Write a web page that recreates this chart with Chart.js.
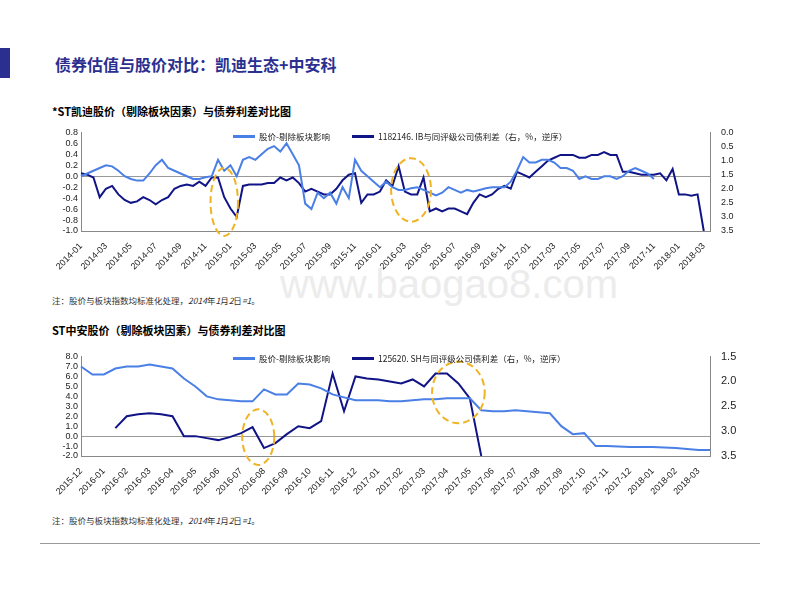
<!DOCTYPE html>
<html><head><meta charset="utf-8">
<script src="https://cdn.jsdelivr.net/npm/chart.js@4"></script>
<style>
body{margin:0;width:800px;height:600px;background:#fff;font-family:"Noto Sans CJK SC","Liberation Sans",sans-serif;position:relative;overflow:hidden}
.abs{position:absolute}
.title{left:55px;top:52px;font-size:16px;font-weight:bold;color:#2b2f8f}
.sub{left:52px;font-size:11px;font-weight:bold;color:#000}
.note{left:52px;font-size:8.5px;color:#333}
.leg{font-size:8.5px;color:#222;display:flex;align-items:center;white-space:nowrap}
.leg span.l{display:inline-block;width:22px;height:3px;margin:0 4px 0 0}
</style></head><body>
<div class="abs" style="left:0;top:48px;width:10px;height:30px;background:#2b2f8f"></div>
<div class="abs title">债券估值与股价对比：凯迪生态+中安科</div>
<div class="abs sub" style="top:103px">*ST凯迪股价（剔除板块因素）与债券利差对比图</div>
<div class="abs sub" style="top:322px">ST中安股价（剔除板块因素）与债券利差对比图</div>
<div class="abs" style="left:280px;top:262px;font-size:40px;color:#ececec;font-family:'Liberation Sans'">www.baogao8.com</div>
<div class="abs note" style="top:294px">注：股价与板块指数均标准化处理，<i>2014</i>年<i>1</i>月<i>2</i>日<i>=1</i>。</div>
<div class="abs note" style="top:514px">注：股价与板块指数均标准化处理，<i>2014</i>年<i>1</i>月<i>2</i>日<i>=1</i>。</div>
<div class="abs" style="left:40px;top:543px;width:720px;height:1px;background:#999"></div>
<div class="abs" style="left:45px;top:124px;width:705px;height:150px"><canvas id="c1"></canvas></div>
<div class="abs" style="left:45px;top:347px;width:705px;height:152px"><canvas id="c2"></canvas></div>
<div class="abs leg" style="left:233px;top:130px"><span class="l" style="background:#4a7fe6"></span>股价-剔除板块影响<span style="width:22px"></span><span class="l" style="background:#101486"></span>1182146. IB与同评级公司债利差（右，%，逆序）</div>
<div class="abs leg" style="left:233px;top:352px"><span class="l" style="background:#4a7fe6"></span>股价-剔除板块影响<span style="width:22px"></span><span class="l" style="background:#101486"></span>125620. SH与同评级公司债利差（右，%，逆序）</div>
<script>
// ---- Chart 1 data (semi-monthly, 2014-01 .. 2018-03)
const months1 = [];
for(let y=2014;y<=2018;y++)for(let m=1;m<=12;m++){if(y===2018&&m>3)break;const s=y+'-'+String(m).padStart(2,'0');months1.push(s);}
const labels1 = [];
months1.forEach(m=>{labels1.push(m);labels1.push('');});
const stock1 = [0.0,0.05,0.1,0.15,0.2,0.18,0.1,0.0,-0.05,-0.08,-0.08,0.05,0.2,0.3,0.15,0.1,0.05,0.0,-0.05,-0.05,-0.02,0.0,0.3,0.1,
0.2,0.0,0.3,0.35,0.3,0.4,0.5,0.55,0.45,0.6,0.4,0.2,-0.5,-0.6,-0.3,-0.4,-0.3,-0.5,-0.2,-0.4,0.3,0.1,0.0,-0.1,
-0.2,-0.1,-0.2,-0.25,-0.25,-0.22,-0.2,-0.25,-0.3,-0.35,-0.3,-0.2,-0.25,-0.3,-0.25,-0.28,-0.25,-0.22,-0.2,-0.2,-0.2,-0.1,0.1,0.35,
0.25,0.25,0.3,0.3,0.25,0.15,0.15,0.1,-0.05,0.0,-0.05,-0.05,0.0,0.0,-0.05,0.0,0.1,0.15,0.1,0.05,-0.05];
const spread1 = [1.45,1.5,1.6,2.3,2.0,1.9,2.2,2.4,2.5,2.45,2.3,2.4,2.55,2.4,2.3,2.0,1.9,1.85,1.9,1.75,1.9,1.6,1.6,2.3,
2.7,3.0,1.9,1.85,1.85,1.85,1.8,1.8,1.6,1.7,1.6,1.8,2.1,2.0,2.1,2.2,2.2,2.0,1.7,1.5,1.45,2.5,2.2,2.2,
2.1,1.7,1.9,1.2,2.1,2.2,2.2,1.6,2.8,2.7,2.8,2.7,2.7,2.8,2.9,2.5,2.2,2.3,2.2,2.0,1.9,2.0,1.4,1.5,
1.6,1.4,1.2,1.0,0.9,0.8,0.8,0.8,0.9,0.9,0.8,0.8,0.7,0.8,0.8,1.4,1.4,1.45,1.5,1.5,1.5,1.45,1.7,1.3,
2.2,2.2,2.25,2.2,3.5];
const ell1 = [[23,-0.47,2.2,0.62],[53,-0.25,3.2,0.58]]; // [index, leftValue, rx(idx), ry(value)]

// ---- Chart 2 data (semi-monthly, 2015-12 .. 2018-03)
const months2 = ['2015-12'];
for(let y=2016;y<=2018;y++)for(let m=1;m<=12;m++){if(y===2018&&m>3)break;months2.push(y+'-'+String(m).padStart(2,'0'));}
const labels2 = [];
months2.forEach(m=>{labels2.push(m);labels2.push('');});
const stock2 = [7.0,6.2,6.2,6.8,7.0,7.0,7.2,7.0,6.8,5.8,5.0,4.0,3.7,3.6,3.5,3.5,4.7,4.2,4.2,5.3,5.2,4.8,4.2,3.9,
3.6,3.6,3.6,3.5,3.5,3.6,3.7,3.7,3.8,3.8,3.8,2.6,2.5,2.5,2.6,2.5,2.4,2.3,1.0,0.2,0.3,-1.0,
-1.0,-1.05,-1.1,-1.1,-1.1,-1.15,-1.2,-1.3,-1.4,-1.4];
const spread2 = [null,null,null,2.94,2.7,2.66,2.64,2.66,2.7,3.1,3.1,3.14,3.18,3.12,3.04,2.92,3.34,3.24,3.06,2.9,2.94,2.8,1.84,2.6,1.9,
1.94,1.96,2.0,2.04,1.96,2.1,1.84,1.84,2.04,2.34,3.5];
const ell2 = [[15.5,-0.1,1.4,2.8],[33,4.4,2.3,3.1]];

const LB='#4a7fe6', DB='#101486';
const ellipsePlugin = {id:'ell',afterDatasetsDraw(ch,a,opts){
  const x=ch.scales.x,y=ch.scales.y,ctx=ch.ctx;ctx.save();ctx.strokeStyle='#f0b323';ctx.lineWidth=2;ctx.setLineDash([7,4]);
  opts.list.forEach(e=>{const cx=x.getPixelForValue(e[0]),cy=y.getPixelForValue(e[1]);
    const rx=Math.abs(x.getPixelForValue(e[0]+e[2])-cx),ry=Math.abs(y.getPixelForValue(e[1]+e[3])-cy);
    ctx.beginPath();ctx.ellipse(cx,cy,rx,ry,0,0,Math.PI*2);ctx.stroke();});
  ctx.restore();}};

function make(id,labels,stock,spread,lmin,lmax,lstep,rmin,rmax,rstep,every,ells,yw){
  const f={size:9,family:'Liberation Sans'};
  return new Chart(document.getElementById(id),{type:'line',
    data:{labels,datasets:[
      {data:stock,borderColor:LB,borderWidth:2,pointRadius:0,yAxisID:'y',tension:0},
      {data:spread,borderColor:DB,borderWidth:2,pointRadius:0,yAxisID:'y1',tension:0}]},
    plugins:[ellipsePlugin],
    options:{responsive:true,maintainAspectRatio:false,animation:false,
      layout:{padding:{top:6,right:4}},
      plugins:{legend:{display:false},tooltip:{enabled:false},ell:{list:ells}},
      scales:{
        x:{grid:{display:false,drawTicks:true},border:{color:'#888'},
          ticks:{autoSkip:false,maxRotation:45,minRotation:45,font:f,color:'#222',padding:2,
            callback:(v,i)=>i%every===0?labels[i]:null}},
        y:{position:'left',min:lmin,max:lmax,afterFit:s=>{s.width=yw},
          ticks:{autoSkip:false,stepSize:lstep,font:f,color:'#222',callback:v=>(Math.round(v*10)/10).toFixed(1)},
          grid:{drawTicks:false,color:c=>Math.abs(c.tick.value)<1e-9?'#999':'transparent'},border:{color:'#888'}},
        y1:{position:'right',reverse:true,min:rmin,max:rmax,afterFit:s=>{s.width=yw},
          ticks:{autoSkip:false,stepSize:rstep,font:{size:f.size+(id==='c2'?2:0),family:f.family},color:'#222',callback:v=>v.toFixed(1)},
          grid:{display:false},border:{color:'#888'}}
      }}});
}
make('c1',labels1,stock1,spread1,-1,0.8,0.2,0,3.5,0.5,4,ell1,36);
make('c2',labels2,stock2,spread2,-2,8,1,1.5,3.5,0.5,2,ell2,36);
</script></body></html>
